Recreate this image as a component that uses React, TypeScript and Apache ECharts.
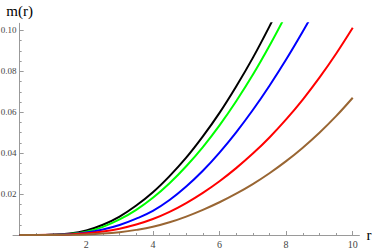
import React, { useEffect, useRef } from "react";
import * as echarts from "echarts";

const rValues = [0, 0.5, 1, 1.5, 2, 2.5, 3, 3.5, 4, 4.5, 5, 5.5, 6, 6.5, 7, 7.5, 8, 8.5, 9, 9.5, 10];

const blackM = [0, 0, 0.0001, 0.0007, 0.0022, 0.005, 0.009, 0.0144, 0.0209, 0.0288, 0.0378, 0.0482, 0.0597, 0.0726, 0.0866, 0.102, 0.1185];
const greenM = [0, 0, 0.0001, 0.0005, 0.0016, 0.004, 0.0076, 0.0123, 0.0182, 0.0253, 0.0336, 0.043, 0.0536, 0.0654, 0.0783, 0.0925, 0.1078];
const blueM = [0, 0, 0.0001, 0.0004, 0.0012, 0.0027, 0.0049, 0.008, 0.0118, 0.0171, 0.0237, 0.0314, 0.0403, 0.0502, 0.0611, 0.073, 0.0858, 0.0995, 0.1139];
const redM = [0, 0, 0.0001, 0.0003, 0.0008, 0.0017, 0.0031, 0.0051, 0.0078, 0.0113, 0.0156, 0.0206, 0.0263, 0.0327, 0.0398, 0.0477, 0.0565, 0.0662, 0.0769, 0.0886, 0.1013];
const brownM = [0, 0, 0, 0.0001, 0.0003, 0.0007, 0.0014, 0.0025, 0.004, 0.0062, 0.009, 0.0123, 0.016, 0.0202, 0.0249, 0.0302, 0.0361, 0.0427, 0.05, 0.0581, 0.0671];

const xTickLabels = [2, 4, 6, 8, 10];
const yTickLabels = [0.02, 0.04, 0.06, 0.08, 0.1];

const xMinorTicks: number[] = [];
for (let i = 1; i <= 20; i++) xMinorTicks.push(i * 0.5);
const yMinorTicks: number[] = [];
for (let i = 1; i <= 20; i++) yMinorTicks.push(Math.round(i * 0.005 * 1000) / 1000);

const seriesDefs = [
  { name: "a", values: blackM, color: "#000000" },
  { name: "b", values: greenM, color: "#00ff00" },
  { name: "c", values: blueM, color: "#0000ff" },
  { name: "d", values: redM, color: "#ff0000" },
  { name: "e", values: brownM, color: "#996633" },
];

const AXIS_COLOR = "#9a9a9a";
const LABEL_COLOR = "#444444";
const FONT = "'Liberation Serif', 'DejaVu Serif', serif";

export default function App() {
  const ref = useRef<HTMLDivElement>(null);
  useEffect(() => {
    if (!ref.current) return;
    const chart = echarts.init(ref.current, undefined, { renderer: "svg" });
    const xMin = -0.2;
    const xMax = 10.2;
    const yMin = 0;
    const yMax = 0.1035;
    chart.setOption({
      animation: false,
      backgroundColor: "#ffffff",
      grid: { left: 13, top: 23.3, width: 346.4, height: 211.7, outerBoundsMode: "none", containLabel: false },
      xAxis: [
        {
          type: "value",
          min: xMin,
          max: xMax,
          position: "bottom",
          name: "r",
          nameLocation: "end",
          nameGap: 7,
          nameTextStyle: { fontFamily: FONT, fontSize: 15, color: "#000" },
          axisLine: { show: true, onZero: false, lineStyle: { color: AXIS_COLOR, width: 1 } },
          axisTick: { show: true, inside: true, length: 4, customValues: xTickLabels, lineStyle: { color: AXIS_COLOR } },
          axisLabel: {
            show: true,
            customValues: xTickLabels,
            margin: 4,
            fontFamily: FONT,
            fontSize: 10,
            color: LABEL_COLOR,
            formatter: (v: number) => String(v),
          },
          splitLine: { show: false },
          minorTick: { show: false },
        },
        {
          type: "value",
          min: xMin,
          max: xMax,
          position: "bottom",
          axisLine: { show: false, onZero: false },
          axisTick: { show: true, inside: true, length: 2, customValues: xMinorTicks, lineStyle: { color: AXIS_COLOR } },
          axisLabel: { show: false },
          splitLine: { show: false },
        },
      ],
      yAxis: [
        {
          type: "value",
          min: yMin,
          max: yMax,
          position: "left",
          name: "m(r)",
          nameLocation: "end",
          nameGap: 5,
          nameTextStyle: { fontFamily: FONT, fontSize: 15, color: "#000" },
          axisLine: { show: true, onZero: true, onZeroAxisIndex: 0, lineStyle: { color: AXIS_COLOR, width: 1 } },
          axisTick: { show: true, inside: true, length: 4, customValues: yTickLabels, lineStyle: { color: AXIS_COLOR } },
          axisLabel: {
            show: true,
            customValues: yTickLabels,
            margin: -3.6,
            fontFamily: FONT,
            fontSize: 9,
            color: LABEL_COLOR,
            formatter: (v: number) => v.toFixed(2),
          },
          splitLine: { show: false },
        },
        {
          type: "value",
          min: yMin,
          max: yMax,
          position: "left",
          axisLine: { show: false, onZero: true, onZeroAxisIndex: 0 },
          axisTick: { show: true, inside: true, length: 2, customValues: yMinorTicks, lineStyle: { color: AXIS_COLOR } },
          axisLabel: { show: false },
          splitLine: { show: false },
        },
      ],
      series: seriesDefs.map((s) => ({
        name: s.name,
        type: "line",
        xAxisIndex: 0,
        yAxisIndex: 0,
        data: s.values.map((v, i) => [rValues[i], v]),
        smooth: 0.4,
        showSymbol: false,
        symbol: "none",
        clip: true,
        lineStyle: { color: s.color, width: 2 },
        itemStyle: { color: s.color },
      })),
    });
    return () => chart.dispose();
  }, []);
  return (
    <div
      ref={ref}
      style={{ position: "fixed", left: 0, top: 0, width: 374, height: 249, background: "#fff" }}
    />
  );
}
